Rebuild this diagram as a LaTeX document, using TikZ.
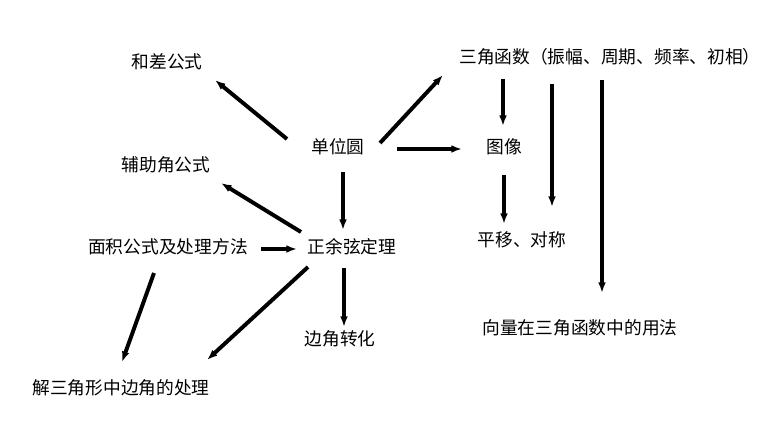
\documentclass[tikz,border=0pt]{standalone}
\usepackage{fontspec}
\newfontfamily\cjk{Noto Sans CJK SC}
\usepackage{tikz}
\usetikzlibrary{arrows.meta,calc}
\tikzset{
  topicnode/.style={
    inner sep=0pt, font=\cjk\fontsize{12.6pt}{14pt}\selectfont
  },
  linkarrow/.style={
    -{Latex[length=7.5pt,width=5.5pt]}, line width=2.8pt, color=black
  },
}

\begin{document}
\begin{tikzpicture}[x=0.025cm, y=-0.025cm]
  \useasboundingbox (0,0) rectangle (776,424);

  % topics
  \node[topicnode] (hc) at (167,62) {和差公式};
  \node[topicnode] (sj) at (610,57) {三角函数（振幅、周期、频率、初相）};
  \node[topicnode] (dw) at (338,147) {单位圆};
  \node[topicnode] (tx) at (504,147) {图像};
  \node[topicnode] (fz) at (166,165) {辅助角公式};
  \node[topicnode] (mj) at (168,247) {面积公式及处理方法};
  \node[topicnode] (zy) at (352,247) {正余弦定理};
  \node[topicnode] (py) at (522,240) {平移、对称};
  \node[topicnode] (xl) at (580,328) {向量在三角函数中的用法};
  \node[topicnode] (bj) at (340,339) {边角转化};
  \node[topicnode] (js) at (121,388) {解三角形中边角的处理};

  % from the unit circle
  \draw[linkarrow] ($(dw)+(-51,-8)$) -- ($(hc)+(48,18)$);
  \draw[linkarrow] ($(dw)+(42,-4)$) -- ($(sj)+(-167,18)$);
  \draw[linkarrow] ($(dw)+(59,2)$) -- ($(tx)+(-42,2)$);
  \draw[linkarrow] ($(dw)+(5,25)$) -- ($(zy)+(-9,-17)$);

  % trig functions
  \draw[linkarrow] ($(sj)+(-107,22)$) -- ($(tx)+(-1,-21)$);
  \draw[linkarrow] ($(sj)+(-58,27)$) -- ($(py)+(30,-33)$);
  \draw[linkarrow] ($(sj)+(-8,23)$) -- ($(xl)+(22,-35)$);
  \draw[linkarrow] ($(tx)+(0,28)$) -- ($(py)+(-18,-16)$);

  % law of sines and cosines
  \draw[linkarrow] ($(zy)+(-51,-15)$) -- ($(fz)+(55,18)$);
  \draw[linkarrow] ($(mj)+(93,2)$) -- ($(zy)+(-55,2)$);
  \draw[linkarrow] ($(mj)+(-14,26)$) -- ($(js)+(1,-26)$);
  \draw[linkarrow] ($(zy)+(-44,20)$) -- ($(js)+(86,-28)$);
  \draw[linkarrow] ($(zy)+(-8,21)$) -- ($(bj)+(4,-12)$);
\end{tikzpicture}
\end{document}
